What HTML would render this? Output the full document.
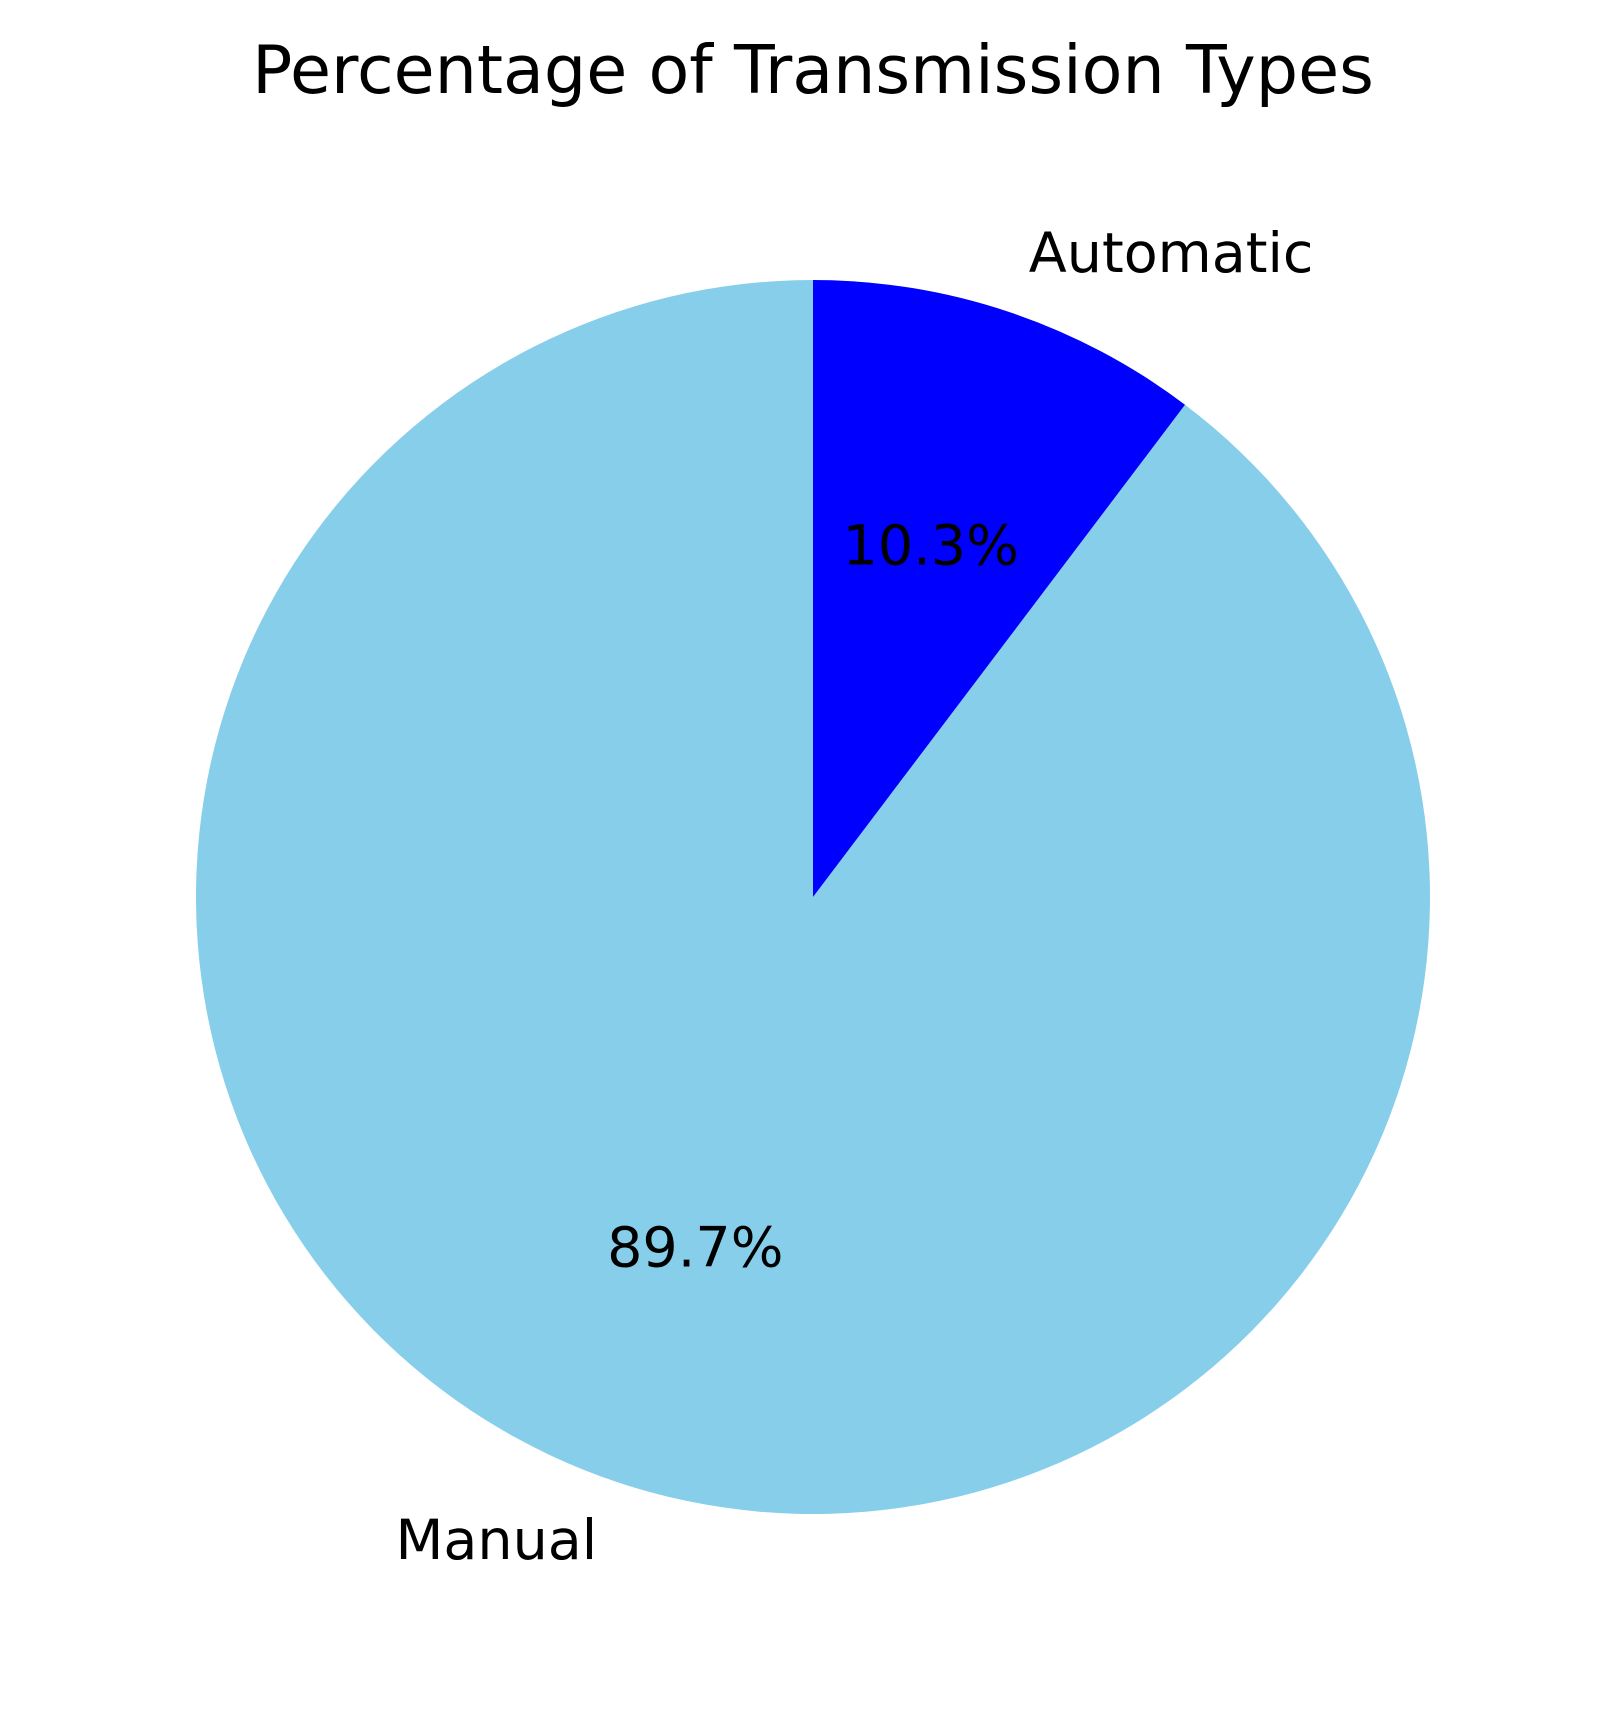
<!DOCTYPE html>
<html><head><meta charset="utf-8"><style>
html,body{margin:0;padding:0;background:#fff;}
svg text{font-family:"DejaVu Sans","Liberation Sans",sans-serif;fill:#000;}
</style></head><body>
<svg id="chart" width="1620" height="1705" viewBox="0 0 1620 1705" xmlns="http://www.w3.org/2000/svg">
<rect width="1620" height="1705" fill="#fff"/>
<text x="813" y="70" font-size="66.7" text-anchor="middle" dominant-baseline="central">Percentage of Transmission Types</text>
<g id="slices"></g>
<g id="labels"></g>
</svg>
<script>
const categories = ["Manual", "Automatic"];
const values = [89.7, 10.3];
const colors = ["#87ceeb", "#0000ff"];
const cx = 813, cy = 897, R = 617, startAngle = 90;
const NS = "http://www.w3.org/2000/svg";
const total = values.reduce((a, b) => a + b, 0);
const sg = document.getElementById('slices');
const lg = document.getElementById('labels');
function pt(deg, r) { const a = deg * Math.PI / 180; return [cx + r * Math.cos(a), cy - r * Math.sin(a)]; }
let ang = startAngle;
values.forEach((v, i) => {
  const sweep = v / total * 360;
  const a0 = ang, a1 = ang + sweep;
  const p0 = pt(a0, R), p1 = pt(a1, R);
  const large = sweep > 180 ? 1 : 0;
  const path = document.createElementNS(NS, 'path');
  path.setAttribute('d', `M${cx},${cy} L${p0[0]},${p0[1]} A${R},${R} 0 ${large} 0 ${p1[0]},${p1[1]} Z`);
  path.setAttribute('fill', colors[i]);
  
  
  sg.appendChild(path);
  const mid = (a0 + a1) / 2;
  const lp = pt(mid, R * 1.1);
  const lab = document.createElementNS(NS, 'text');
  lab.setAttribute('x', lp[0]); lab.setAttribute('y', lp[1]);
  lab.setAttribute('font-size', '55.5');
  lab.setAttribute('dominant-baseline', 'central');
  lab.setAttribute('text-anchor', Math.cos(mid * Math.PI / 180) < 0 ? 'end' : 'start');
  lab.textContent = categories[i];
  
  
  lg.appendChild(lab);
  const pp = pt(mid, R * 0.6);
  const pc = document.createElementNS(NS, 'text');
  pc.setAttribute('x', pp[0]); pc.setAttribute('y', pp[1]);
  pc.setAttribute('font-size', '55.5');
  pc.setAttribute('dominant-baseline', 'central');
  pc.setAttribute('text-anchor', 'middle');
  pc.textContent = (v / total * 100).toFixed(1) + '%';
  
  
  lg.appendChild(pc);
  ang = a1;
});
</script>
</body></html>
